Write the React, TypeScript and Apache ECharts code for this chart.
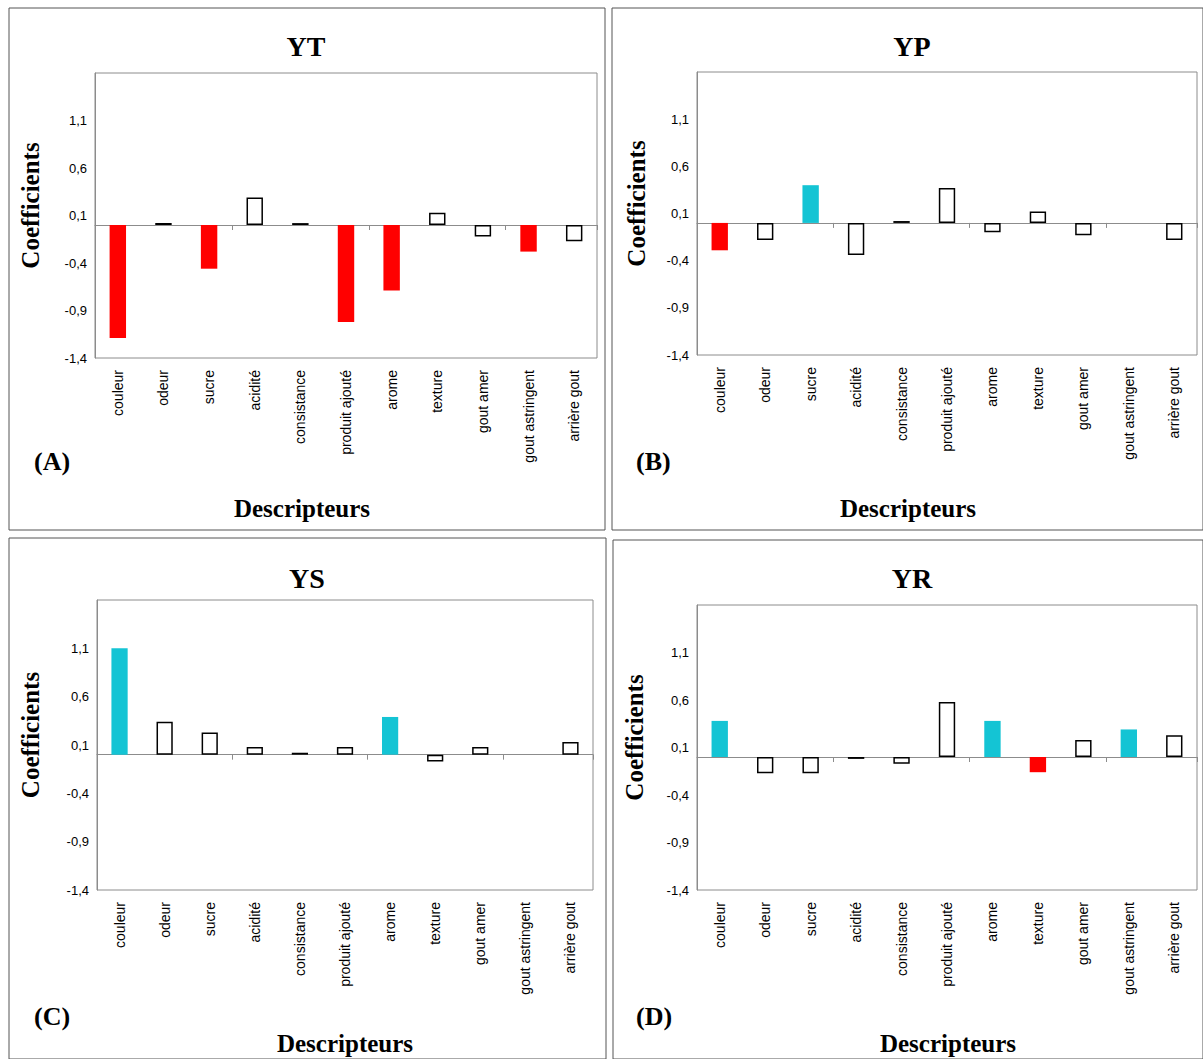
import * as echarts from "echarts";
import { useEffect, useRef } from "react";

const categories = [
  "couleur", "odeur", "sucre", "acidité", "consistance", "produit ajouté",
  "arome", "texture", "gout amer", "gout astringent", "arrière gout",
];

const ytValues = [-1.19, 0.02, -0.46, 0.29, 0.02, -1.02, -0.69, 0.13, -0.12, -0.28, -0.17];
const ytSig = ["neg", "", "neg", "", "", "neg", "neg", "", "", "neg", ""];

const ypValues = [-0.29, -0.18, 0.4, -0.34, 0.02, 0.37, -0.1, 0.12, -0.13, 0, -0.18];
const ypSig = ["neg", "", "pos", "", "", "", "", "", "", "", ""];

const ysValues = [1.1, 0.34, 0.23, 0.08, 0.02, 0.08, 0.39, -0.07, 0.08, 0, 0.13];
const ysSig = ["pos", "", "", "", "", "", "pos", "", "", "", ""];

const yrValues = [0.38, -0.17, -0.17, -0.02, -0.07, 0.58, 0.38, -0.16, 0.18, 0.29, 0.23];
const yrSig = ["pos", "", "", "", "", "", "pos", "neg", "", "pos", ""];

const panels = [
  { title: "YT", letter: "(A)", values: ytValues, sig: ytSig, grid: { left: 95, top: 73, width: 502, height: 285 }, box: [9, 8, 596, 522], titleX: 306, coefX: 30, descX: 302, letterX: 34, yOff: 0 },
  { title: "YP", letter: "(B)", values: ypValues, sig: ypSig, grid: { left: 697, top: 72, width: 500, height: 283 }, box: [612, 8, 591, 522], titleX: 912, coefX: 636, descX: 908, letterX: 636, yOff: 0 },
  { title: "YS", letter: "(C)", values: ysValues, sig: ysSig, grid: { left: 97, top: 600, width: 496, height: 290 }, box: [9, 538, 597, 521], titleX: 307, coefX: 30, descX: 345, letterX: 34, yOff: 532 },
  { title: "YR", letter: "(D)", values: yrValues, sig: yrSig, grid: { left: 697, top: 605, width: 500, height: 285 }, box: [613, 540, 590, 519], titleX: 912, coefX: 634, descX: 948, letterX: 636, yOff: 532 },
];

const serif = "'Liberation Serif', 'DejaVu Serif', serif";
const sans = "'Liberation Sans', sans-serif";

const App = () => {
  const chartRef = useRef<HTMLDivElement>(null);

  useEffect(() => {
    document.body.style.margin = "0";
    const chart = echarts.init(chartRef.current as HTMLDivElement, undefined, { renderer: "svg" });

    const grids: any[] = [];
    const xAxes: any[] = [];
    const yAxes: any[] = [];
    const series: any[] = [];
    const graphics: any[] = [];

    panels.forEach((p, i) => {
      grids.push({ ...p.grid, show: true, borderColor: "#8c8c8c", borderWidth: 1, backgroundColor: "transparent" });
      // axis line at zero with ticks
      xAxes.push({
        gridIndex: i, type: "category", data: categories,
        axisLine: { onZero: true, lineStyle: { color: "#8c8c8c" } },
        axisTick: { show: true, length: 5, lineStyle: { color: "#8c8c8c" } },
        axisLabel: { show: false },
      });
      // labels at the bottom of the plot area
      xAxes.push({
        gridIndex: i, type: "category", data: categories, position: "bottom",
        axisLine: { show: false, onZero: false }, axisTick: { show: false },
        axisLabel: { rotate: 90, interval: 0, fontFamily: sans, fontSize: 14, color: "#000", margin: 12 },
      });
      yAxes.push({
        gridIndex: i, type: "value", min: -1.4, max: 1.6, interval: 0.5,
        splitLine: { show: false },
        axisLine: { show: true, lineStyle: { color: "#8c8c8c" } },
        axisTick: { show: false },
        axisLabel: {
          fontFamily: sans, fontSize: 13, color: "#000",
          formatter: (v: number) => (v > 1.55 ? "" : v.toFixed(1).replace(".", ",")),
        },
      });
      series.push({
        type: "bar", xAxisIndex: i * 2, yAxisIndex: i, barWidth: "36%",
        data: p.values.map((v, j) => ({
          value: v,
          itemStyle: v === 0
            ? { color: "transparent", borderWidth: 0 }
            : p.sig[j] === "neg"
              ? { color: "#ff0000", borderWidth: 0 }
              : p.sig[j] === "pos"
                ? { color: "#14c4d4", borderWidth: 0 }
                : { color: "#fff", borderColor: "#000", borderWidth: 1.5 },
        })),
      });
      const [bx, by, bw, bh] = p.box;
      graphics.push({ type: "rect", shape: { x: bx, y: by, width: bw, height: bh }, style: { fill: "none", stroke: "#555", lineWidth: 1 } });
      graphics.push({ type: "text", x: p.titleX, y: 46 + p.yOff, style: { text: p.title, font: `bold 28px ${serif}`, fill: "#000", align: "center", verticalAlign: "middle" } });
      graphics.push({ type: "text", x: p.descX, y: 508 + p.yOff + (i >= 2 ? 3 : 0), style: { text: "Descripteurs", font: `bold 25px ${serif}`, fill: "#000", align: "center", verticalAlign: "middle" } });
      graphics.push({ type: "text", x: p.letterX, y: 461 + p.yOff + (i >= 2 ? 23 : 0), style: { text: p.letter, font: `bold 26px ${serif}`, fill: "#000", align: "left", verticalAlign: "middle" } });
      const coefY = p.grid.top + p.grid.height / 2 - 10;
      graphics.push({ type: "text", x: p.coefX, y: coefY, rotation: Math.PI / 2, style: { text: "Coefficients", font: `bold 25px ${serif}`, fill: "#000", align: "center", verticalAlign: "middle" } });
    });

    chart.setOption({
      animation: false,
      grid: grids,
      xAxis: xAxes,
      yAxis: yAxes,
      series,
      graphic: graphics,
    });

    return () => {
      chart.dispose();
    };
  }, []);

  return <div ref={chartRef} style={{ width: "1203px", height: "1059px", background: "#fff" }} />;
};

export default App;
